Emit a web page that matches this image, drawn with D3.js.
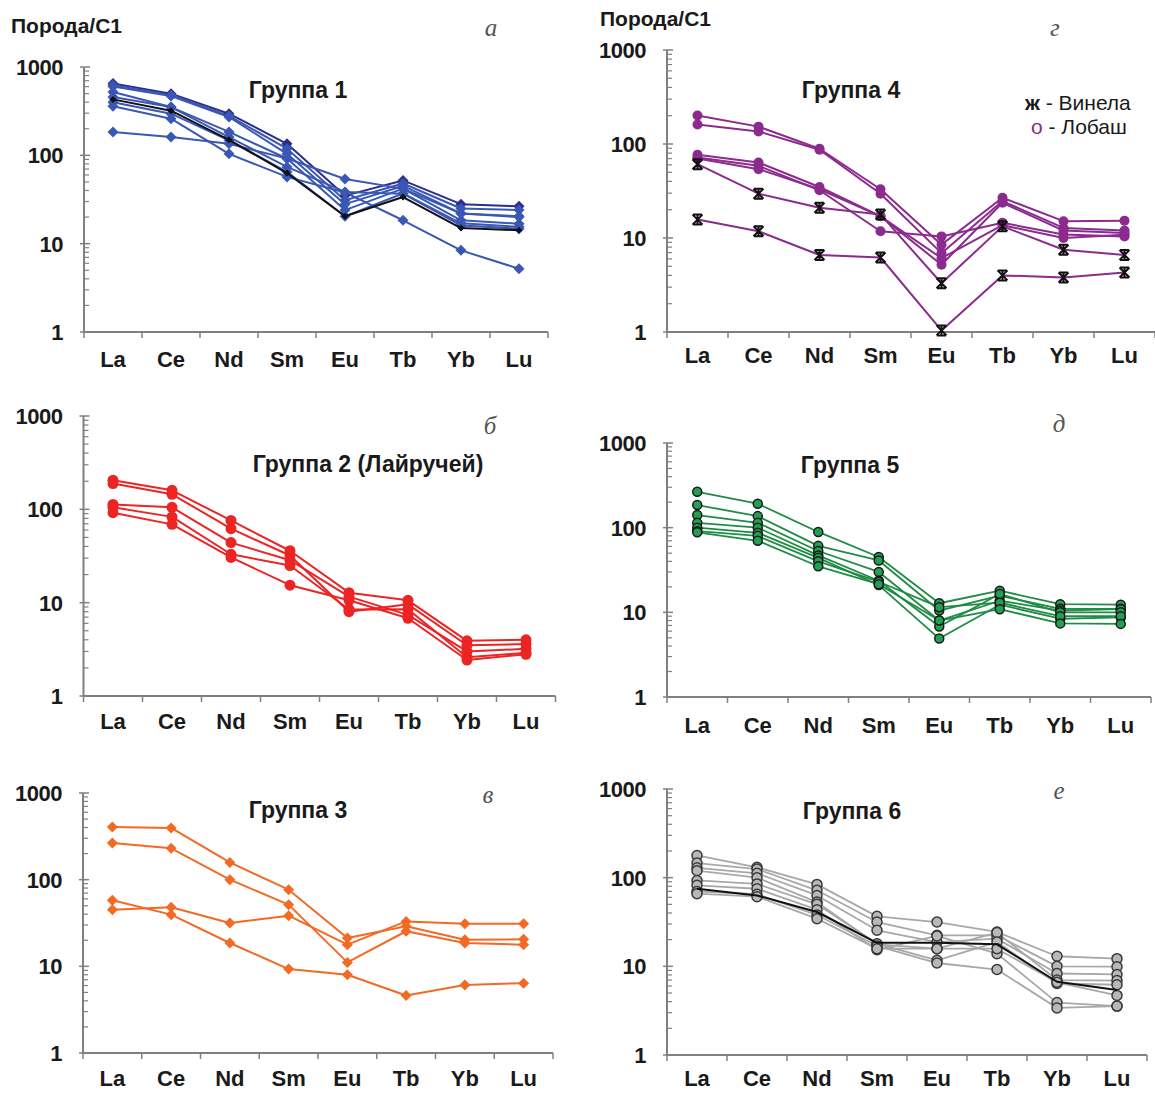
<!DOCTYPE html>
<html><head><meta charset="utf-8">
<script src="https://cdn.jsdelivr.net/npm/d3@7"></script>
<style>
body{margin:0;background:#fff}
text{font-family:"Liberation Sans",Arial,sans-serif;fill:#1a1a1a}
</style>
</head><body>
<svg id="c" width="1155" height="1093"></svg>
<script>
// ---------- DATA ----------
const elements = ["La","Ce","Nd","Sm","Eu","Tb","Yb","Lu"];
const yTickValues = [1,10,100,1000];
const yTickLabels = ["1","10","100","1000"];
const yAxisTitle = "Порода/С1";
const titles = ["Группа 1","Группа 2 (Лайручей)","Группа 3","Группа 4","Группа 5","Группа 6"];
const letters = ["а","б","в","г","д","е"];
const legendSymbols = ["ж","о"];
const legendLabels = [" - Винела"," - Лобаш"];

const group1Blue = [
  [650,499,296,135,35,52,28,26.5],
  [620,480,280,119,31,48,25,24],
  [600,470,272,104,28,45,22,20.4],
  [520,352,184,92,24,42,18.4,16.8],
  [458,352,161,74,38.5,36.8,16.1,14.8],
  [400,296,148,65,20.4,37,17,15.5],
  [360,260,104,57,38,18.4,8.4,5.2],
  [184,161,135,92,54,42,21.9,20]
];
const group1Black = [430,320,150,63,20.4,33.7,15,14.2];

const group2 = [
  [205,160,76,36,12.8,10.6,3.9,4.0],
  [189,145,62,32,8.0,9.6,3.5,3.6],
  [113,105,44,28.5,11.6,7.4,3.0,3.2],
  [105,83,33,25,8.45,8.5,2.6,2.9],
  [92,69,30.5,15.4,10.6,6.8,2.43,2.8]
];

const group3 = [
  [405,395,158,76.7,21.2,29,20.3,20.5],
  [265,230,100,51.5,11.1,25.4,18.6,17.8],
  [45,48,31.6,38.4,17.8,33,31,31],
  [57.8,39.5,18.6,9.3,8.0,4.6,6.1,6.4]
];

const group4Lobash = [
  [201,153,89,33,8.5,26.8,15.1,15.3],
  [161,136,87,29.6,6.9,24.7,12.8,12.0],
  [77,63.6,34.9,17.1,5.2,23.7,12,11.3],
  [72,58.6,32.2,11.8,10.4,14.5,10.9,10.4],
  [70,54,33,17,6.1,13.7,10,10.8]
];
const group4Vinela = [
  [61,29.6,21,17.8,3.3,13.3,7.5,6.6],
  [15.7,11.8,6.6,6.2,1.04,4.0,3.8,4.3]
];

const group5 = [
  [265,192,89,45,12.8,18,12.5,12.3],
  [185,137,61,41,10.5,15.7,11,11],
  [141,114,53,30,8.0,13.7,10.5,10.9],
  [114,100,47,23.6,6.8,16.5,10,10],
  [100,87,44,21,4.9,12.3,8.4,8.7],
  [91,80,40,23,11.5,13,9,9],
  [88,70,35,21.5,8.0,10.9,7.4,7.3]
];

const group6Gray = [
  [178,131,84,36.6,31.6,24.4,13,12.2],
  [146,125,72,31.6,22.4,22.4,10,9.9],
  [129,112,63,25.5,18.8,20.5,8.3,8.1],
  [120,100,53,17.7,15.8,24,7,6.9],
  [93,85,50,18,11.7,18.8,6.4,6.2],
  [82,75,43.5,15.4,22,13.9,3.9,3.56],
  [70,65,38,17,10.9,9.2,3.4,3.56],
  [66,61,34.5,15.8,15.8,15.8,6.6,4.7]
];
const group6Black = [75,63,41,18.4,18.4,17.7,6.7,5.4];

// ---------- DRAW ----------
const svg = d3.select("#c");
const AX = "#808080";

function makePanel(c) {
  const x = d3.scaleBand().domain(elements).range([c.x0, c.x1]);
  const y = d3.scaleLog().domain([1,1000]).range([c.yBot, c.yTop]);
  const g = svg.append("g");
  g.append("line").attr("x1",c.x0).attr("x2",c.x0).attr("y1",y(1000)).attr("y2",y(1))
    .attr("stroke",AX).attr("stroke-width",2);
  const minors = [];
  [1,10,100].forEach(d=>{for(let k=2;k<=9;k++) minors.push(d*k);});
  g.selectAll(".mn").data(minors).join("line")
    .attr("x1",c.x0).attr("x2",c.x0+5).attr("y1",d=>y(d)).attr("y2",d=>y(d))
    .attr("stroke",AX).attr("stroke-width",1.2);
  g.selectAll(".mj").data(yTickValues).join("line")
    .attr("x1",c.x0-4).attr("x2",c.x0+6).attr("y1",d=>y(d)).attr("y2",d=>y(d))
    .attr("stroke",AX).attr("stroke-width",1.5);
  g.selectAll(".yl").data(yTickValues).join("text")
    .attr("x",c.x0-21).attr("y",d=>y(d)).attr("dy","0.36em")
    .attr("text-anchor","end").attr("font-size",22).attr("font-weight","bold")
    .attr("letter-spacing","-0.5")
    .text((d,i)=>yTickLabels[i]);
  g.append("line").attr("x1",c.x0).attr("x2",c.x1).attr("y1",c.yBot).attr("y2",c.yBot)
    .attr("stroke",AX).attr("stroke-width",2);
  const bounds = elements.map(e=>x(e)).concat([c.x1]);
  g.selectAll(".xt").data(bounds).join("line")
    .attr("x1",d=>d).attr("x2",d=>d).attr("y1",c.yBot).attr("y2",c.yBot+6)
    .attr("stroke",AX).attr("stroke-width",1.5);
  g.selectAll(".xl").data(elements).join("text")
    .attr("x",d=>x(d)+x.bandwidth()/2).attr("y",c.xLabelY).attr("dy","0.36em")
    .attr("text-anchor","middle").attr("font-size",22).attr("font-weight","bold")
    .text(d=>d);
  g.append("text").attr("x",c.tx).attr("y",c.ty).attr("dy","0.36em").attr("text-anchor","middle")
    .attr("font-size",23).attr("font-weight","bold").text(c.title);
  g.append("text").attr("x",c.lx).attr("y",c.ly).attr("dy","0.36em").attr("text-anchor","middle")
    .attr("font-size",25).attr("font-style","italic").style("font-family","'Liberation Serif',serif")
    .style("fill","#555").text(c.letter);
  return {x,y,g};
}

function drawSeries(p, series, opt) {
  const line = d3.line().x((d,i)=>p.x(elements[i])+p.x.bandwidth()/2).y(d=>p.y(d));
  const gg = p.g.append("g");
  series.forEach((s,si)=>{
    gg.append("path").attr("d",line(s)).attr("fill","none")
      .attr("stroke", typeof opt.color==="function"? opt.color(si): opt.color)
      .attr("stroke-width",opt.width||2).attr("stroke-linejoin","round");
  });
  series.forEach((s,si)=>{
    const pts = gg.selectAll(null).data(s).join("g")
      .attr("transform",(d,i)=>`translate(${p.x(elements[i])+p.x.bandwidth()/2},${p.y(d)})`);
    const col = typeof opt.color==="function"? opt.color(si): opt.color;
    if (opt.marker==="diamond") {
      const h = opt.size||5.5;
      pts.append("path").attr("d",`M0,${-h}L${h},0L0,${h}L${-h},0Z`).attr("fill",col);
    } else if (opt.marker==="circle") {
      pts.append("circle").attr("r",opt.size||5).attr("fill",opt.fill||col)
        .attr("stroke",opt.stroke||"none").attr("stroke-width",opt.sw||1.5);
    } else if (opt.marker==="zh") {
      const s = opt.size||5.5;
      pts.append("path").attr("d",`M${-s},${-s}L${s},${s}M${-s},${s}L${s},${-s}M0,${-s}L0,${s}M${-s*0.9},${-s}L${s*0.9},${-s}M${-s*0.9},${s}L${s*0.9},${s}`)
        .attr("stroke","#111").attr("stroke-width",2).attr("fill","none");
    }
  });
}

// Panel а
const pa = makePanel({x0:84,x1:548,yTop:67,yBot:332,xLabelY:359,tx:298,ty:90,title:titles[0],lx:491,ly:27,letter:letters[0]});
drawSeries(pa, group1Blue, {color:(i)=>i===0?"#2d2d8c":"#3a57b5", marker:"diamond", size:5.5});
drawSeries(pa, [group1Black], {color:"#111", marker:"diamond", size:3.5});
svg.append("text").attr("x",11).attr("y",25).attr("dy","0.36em").attr("font-size",21).attr("font-weight","bold").text(yAxisTitle);

// Panel б
const pb = makePanel({x0:83.5,x1:555.5,yTop:416,yBot:696,xLabelY:721,tx:368,ty:464,title:titles[1],lx:490,ly:425,letter:letters[1]});
drawSeries(pb, group2, {color:"#ec2424", marker:"circle", size:5.5});

// Panel в
const pc = makePanel({x0:83,x1:553,yTop:793,yBot:1053,xLabelY:1078,tx:298,ty:810,title:titles[2],lx:488,ly:794,letter:letters[2]});
drawSeries(pc, group3, {color:"#f26a24", marker:"diamond", size:5.5});

// Panel г
const pd = makePanel({x0:667,x1:1155,yTop:50,yBot:332,xLabelY:355,tx:851,ty:90,title:titles[3],lx:1055,ly:27,letter:letters[3]});
drawSeries(pd, group4Lobash, {color:"#8b2b8d", marker:"circle", size:5});
drawSeries(pd, group4Vinela, {color:"#8b2b8d", marker:"zh", size:5});
svg.append("text").attr("x",600).attr("y",18).attr("dy","0.36em").attr("font-size",21).attr("font-weight","bold").text(yAxisTitle);
const lg = svg.append("g");
const l1 = lg.append("text").attr("x",1025).attr("y",102).attr("dy","0.36em").attr("font-size",21);
l1.append("tspan").attr("font-weight","bold").text(legendSymbols[0]);
l1.append("tspan").text(legendLabels[0]);
const l2 = lg.append("text").attr("x",1031).attr("y",126).attr("dy","0.36em").attr("font-size",21);
l2.append("tspan").style("fill","#8b2b8d").text(legendSymbols[1]);
l2.append("tspan").text(legendLabels[1]);

// Panel д
const pe = makePanel({x0:667,x1:1151,yTop:443,yBot:697,xLabelY:725,tx:850,ty:465,title:titles[4],lx:1059,ly:423,letter:letters[4]});
drawSeries(pe, group5, {color:"#1f8c45", marker:"circle", size:4.5, fill:"#22a052", stroke:"#1a1a1a", sw:1.5, width:1.8});

// Panel е
const pf = makePanel({x0:667,x1:1147,yTop:789,yBot:1055,xLabelY:1078,tx:852,ty:811,title:titles[5],lx:1059,ly:790,letter:letters[5]});
drawSeries(pf, group6Gray, {color:"#a8a8a8", marker:"circle", size:5, fill:"#b8b8b8", stroke:"#3a3a3a", sw:1.5, width:1.8});
drawSeries(pf, [group6Black], {color:"#111", marker:"none", width:2});
</script>
</body></html>
